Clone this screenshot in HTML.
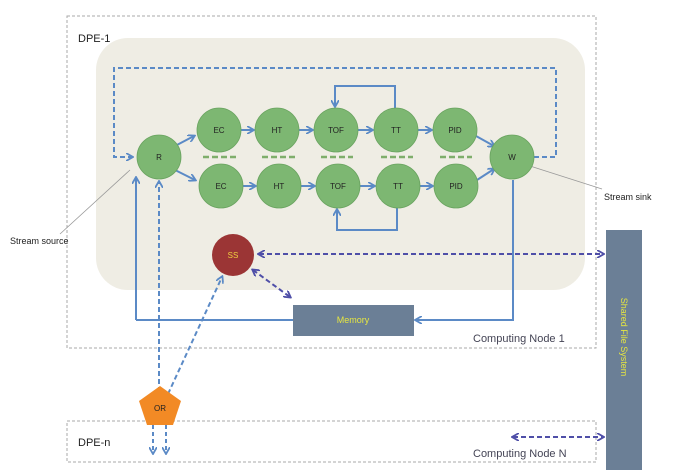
<!DOCTYPE html><html><head><style>body{margin:0;background:#fff}svg{display:block;font-family:"Liberation Sans",sans-serif}</style></head><body>
<svg width="694" height="473" viewBox="0 0 694 473">
<defs>
<marker id="a" markerWidth="8" markerHeight="8" refX="6" refY="4" orient="auto" markerUnits="userSpaceOnUse"><path d="M0,0 L7,4 L0,8" fill="none" stroke="#5b8ac6" stroke-width="1.8"/></marker>
<marker id="p" markerWidth="8" markerHeight="8" refX="6" refY="4" orient="auto-start-reverse" markerUnits="userSpaceOnUse"><path d="M0,0 L7,4 L0,8" fill="none" stroke="#4f4fa8" stroke-width="1.8"/></marker>
</defs>
<rect x="67" y="16" width="529" height="332" fill="none" stroke="#aaa" stroke-dasharray="3,2"/>
<rect x="67" y="421" width="529" height="41" fill="none" stroke="#aaa" stroke-dasharray="3,2"/>
<rect x="96" y="38" width="489" height="252" rx="32" fill="#efede4"/>
<text x="78" y="42" font-size="11" fill="#222">DPE-1</text>
<text x="78" y="446" font-size="11" fill="#222">DPE-n</text>
<text x="473" y="342" font-size="11" fill="#445">Computing Node 1</text>
<text x="473" y="457" font-size="11" fill="#445">Computing Node N</text>
<text x="10" y="244" font-size="9" fill="#222">Stream source</text>
<text x="604" y="200" font-size="9" fill="#222">Stream sink</text>
<line x1="60" y1="234" x2="130" y2="170" stroke="#999" stroke-width="0.8"/>
<line x1="530" y1="166" x2="602" y2="189" stroke="#999" stroke-width="0.8"/>
<g stroke="#5b8ac6" stroke-width="2" fill="none">
<path d="M534,157 H556 V68 H114 V157 H132" stroke-dasharray="5,3" marker-end="url(#a)"/>
<path d="M159,400 V182" stroke-dasharray="5,3" marker-end="url(#a)"/>
<path d="M136,320 V178" marker-end="url(#a)"/>
<path d="M136,320 H293"/>
<path d="M513,180 V320 H416" marker-end="url(#a)"/>
<path d="M168,394 L222,277" stroke-dasharray="5,3" marker-end="url(#a)"/>
<path d="M153,425 V453" stroke-dasharray="4,3" marker-end="url(#a)"/>
<path d="M166,425 V453" stroke-dasharray="4,3" marker-end="url(#a)"/>
<path d="M175,146 L194,136" marker-end="url(#a)"/>
<path d="M175,170 L195,180" marker-end="url(#a)"/>
<path d="M241,130 H253" marker-end="url(#a)"/><path d="M299,130 H312" marker-end="url(#a)"/><path d="M358,130 H372" marker-end="url(#a)"/><path d="M418,130 H431" marker-end="url(#a)"/>
<path d="M243,186 H255" marker-end="url(#a)"/><path d="M301,186 H314" marker-end="url(#a)"/><path d="M360,186 H374" marker-end="url(#a)"/><path d="M420,186 H432" marker-end="url(#a)"/>
<path d="M476,136 L494,146" marker-end="url(#a)"/><path d="M477,180 L494,169" marker-end="url(#a)"/>
<path d="M395,108 V86 H335 V106" marker-end="url(#a)"/>
<path d="M397,208 V230 H337 V210" marker-end="url(#a)"/>
</g>
<g stroke="#4f4fa8" stroke-width="2" fill="none" stroke-dasharray="5,3">
<path d="M259,254 H603" marker-start="url(#p)" marker-end="url(#p)"/>
<path d="M253,270 L290,297" marker-start="url(#p)" marker-end="url(#p)"/>
<path d="M513,437 H603" marker-start="url(#p)" marker-end="url(#p)"/>
</g>
<g stroke="#7fae6b" stroke-width="2.5" stroke-dasharray="6,3"><path d="M203,157H237M262,157H295M321,157H353M381,157H413M440,157H472"/></g>
<g fill="#7db772" stroke="#6aa460" stroke-width="0.8">
<circle cx="159" cy="157" r="22"/><circle cx="512" cy="157" r="22"/>
<circle cx="219" cy="130" r="22"/><circle cx="277" cy="130" r="22"/><circle cx="336" cy="130" r="22"/><circle cx="396" cy="130" r="22"/><circle cx="455" cy="130" r="22"/>
<circle cx="221" cy="186" r="22"/><circle cx="279" cy="186" r="22"/><circle cx="338" cy="186" r="22"/><circle cx="398" cy="186" r="22"/><circle cx="456" cy="186" r="22"/>
</g>
<g font-size="8" fill="#222" text-anchor="middle">
<text x="159" y="160">R</text><text x="512" y="160">W</text>
<text x="219" y="133">EC</text><text x="277" y="133">HT</text><text x="336" y="133">TOF</text><text x="396" y="133">TT</text><text x="455" y="133">PID</text>
<text x="221" y="189">EC</text><text x="279" y="189">HT</text><text x="338" y="189">TOF</text><text x="398" y="189">TT</text><text x="456" y="189">PID</text>
</g>
<circle cx="233" cy="255" r="21" fill="#9b3535"/>
<text x="233" y="258" font-size="8" fill="#f0d040" text-anchor="middle">SS</text>
<rect x="293" y="305" width="121" height="31" fill="#6b7f96"/>
<text x="353" y="323" font-size="9" fill="#e6e640" text-anchor="middle">Memory</text>
<rect x="606" y="230" width="36" height="240" fill="#6b7f96"/>
<text transform="translate(621,337) rotate(90)" font-size="9" fill="#e6e640" text-anchor="middle">Shared File System</text>
<polygon points="160,386 181,401 173,425 147,425 139,401" fill="#f28a25"/>
<text x="160" y="411" font-size="8" fill="#222" text-anchor="middle">OR</text>
</svg></body></html>
